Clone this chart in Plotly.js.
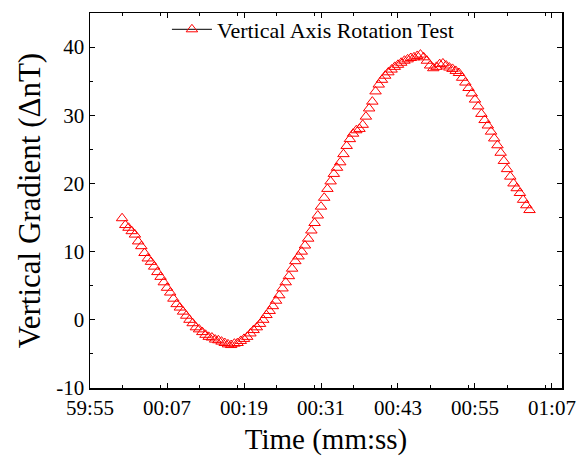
<!DOCTYPE html>
<html>
<head>
<meta charset="utf-8">
<script src="https://cdn.plot.ly/plotly-3.0.1.min.js"></script>
<style>html,body{margin:0;padding:0;background:#fff;}#chart{width:579px;height:465px;}</style>
</head>
<body>
<div id="chart"></div>
<script>
// Seconds elapsed since 00:59:55
const seconds = [
  5.0, 5.5, 6.0, 6.5, 7.0, 7.5, 8.0, 8.5, 9.0, 9.5,
  10.0, 10.5, 11.0, 11.5, 12.0, 12.5, 13.0, 13.5, 14.0, 14.5,
  15.0, 15.5, 16.0, 16.5, 17.0, 17.5, 18.0, 18.5, 19.0, 19.5,
  20.0, 20.5, 21.0, 21.5, 22.0, 22.5, 23.0, 23.5, 24.0, 24.5,
  25.0, 25.5, 26.0, 26.5, 27.0, 27.5, 28.0, 28.5, 29.0, 29.5,
  30.0, 30.5, 31.0, 31.5, 32.0, 32.5, 33.0, 33.5, 34.0, 34.5,
  35.0, 35.5, 36.0, 36.5, 37.0, 37.5, 38.0, 38.5, 39.0, 39.5,
  40.0, 40.5, 41.0, 41.5, 42.0, 42.5, 43.0, 43.5, 44.0, 44.5,
  45.0, 45.5, 46.0, 46.5, 47.0, 47.5, 48.0, 48.5, 49.0, 49.5,
  50.0, 50.5, 51.0, 51.5, 52.0, 52.5, 53.0, 53.5, 54.0, 54.5,
  55.0, 55.5, 56.0, 56.5, 57.0, 57.5, 58.0, 58.5, 59.0, 59.5,
  60.0, 60.5, 61.0, 61.5, 62.0, 62.5, 63.0, 63.5, 64.0, 64.5,
  65.0, 65.5, 66.0, 66.5, 67.0, 67.5, 68.0, 68.5
];
// Vertical gradient (ΔnT)
const gradient = [
  14.9, 13.9, 13.5, 13.0, 12.5, 11.5, 10.8, 9.8, 9.0, 8.5,
  7.8, 7.0, 6.3, 5.5, 4.7, 4.0, 3.1, 2.3, 1.8, 1.2,
  0.6, 0.0, -0.5, -1.1, -1.4, -1.8, -2.2, -2.5, -2.6, -2.9,
  -3.0, -3.2, -3.4, -3.6, -3.7, -3.5, -3.4, -3.1, -2.8, -2.5,
  -2.0, -1.5, -1.1, -0.6, 0.0, 0.7, 1.3, 2.0, 2.8, 3.6,
  4.6, 5.5, 6.4, 7.5, 8.6, 9.3, 10.0, 10.9, 11.9, 13.1,
  14.2, 15.3, 16.6, 17.9, 19.2, 20.3, 21.4, 22.3, 23.1, 24.3,
  25.5, 26.5, 27.3, 27.8, 28.0, 28.6, 29.8, 31.0, 32.0, 33.5,
  34.5, 35.2, 35.8, 36.3, 36.7, 37.1, 37.4, 37.7, 38.0, 38.2,
  38.4, 38.5, 38.7, 38.9, 38.5, 38.0, 37.3, 36.9, 37.1, 37.5,
  37.6, 37.3, 37.0, 36.8, 36.5, 36.2, 35.5, 34.8, 34.0, 33.2,
  32.3, 31.3, 30.2, 29.3, 28.5, 27.6, 26.6, 25.6, 24.5, 23.3,
  22.1, 21.0, 20.0, 19.3, 18.6, 17.6, 16.8, 16.1
];
// Y tick values and labels (plain hyphen minus as in the reference)
const yTickVals = [-10, 0, 10, 20, 30, 40];
const yTickText = ['-10', '0', '10', '20', '30', '40'];
const seriesName = 'Vertical Axis Rotation Test';
const xTitle = 'Time (mm:ss)';
const yTitle = 'Vertical Gradient (ΔnT)';

const startSec = 59 * 60 + 55; // 00:59:55
function toDate(s) {
  const total = startSec + s;
  const h = Math.floor(total / 3600);
  const m = Math.floor((total % 3600) / 60);
  const sec = total - h * 3600 - m * 60;
  const pad = (v) => String(v).padStart(2, '0');
  const secStr = sec.toFixed(3).padStart(6, '0');
  return '2024-01-01 ' + pad(h) + ':' + pad(m) + ':' + secStr;
}
const times = seconds.map(toDate);

const font = 'Liberation Serif, Times New Roman, serif';

const traces = [
  {
    x: times, y: gradient, type: 'scatter', mode: 'markers',
    name: seriesName, showlegend: false,
    marker: {symbol: 'triangle-up-open', size: 10, color: '#ff0000', line: {width: 1, color: '#ff0000'}}
  },
  {
    x: [null], y: [null], type: 'scatter', mode: 'lines+markers',
    name: seriesName, showlegend: true,
    line: {color: '#000000', width: 1},
    marker: {symbol: 'triangle-up-open', size: 10, color: '#ff0000', line: {width: 1, color: '#ff0000'}}
  }
];

// trailing no-break spaces shift the rotated title down to match the reference
const yTitleText = yTitle + '\u00a0\u00a0\u00a0\u00a0\u00a0\u00a0\u00a0\u00a0';

const layout = {
  width: 579, height: 465,
  margin: {l: 90, r: 17, t: 9, b: 77},
  paper_bgcolor: '#ffffff', plot_bgcolor: '#ffffff',
  font: {family: font, color: '#000000', size: 21},
  showlegend: true,
  legend: {
    x: 0.163, y: 1.012, xanchor: 'left', yanchor: 'top',
    bgcolor: 'rgba(0,0,0,0)', borderwidth: 0,
    font: {family: font, size: 22, color: '#000000'},
    itemwidth: 40
  },
  xaxis: {
    type: 'date',
    range: ['2024-01-01 00:59:55', '2024-01-01 01:01:08.56'],
    tick0: '2024-01-01 00:59:55', dtick: 12000,
    tickformat: '%M:%S',
    ticks: 'inside', ticklen: 5, tickwidth: 1, tickcolor: '#000',
    minor: {dtick: 6000, ticks: 'inside', ticklen: 3, tickwidth: 1, tickcolor: '#000'},
    showline: true, linecolor: '#000', linewidth: 1.5, mirror: 'ticks',
    showgrid: false, zeroline: false,
    tickfont: {family: font, size: 21},
    title: {text: xTitle, font: {family: font, size: 29}, standoff: 10}
  },
  yaxis: {
    range: [-10, 45],
    tickmode: 'array', tickvals: yTickVals, ticktext: yTickText,
    ticks: 'inside', ticklen: 5, tickwidth: 1, tickcolor: '#000',
    minor: {tickmode: 'linear', tick0: -10, dtick: 5, ticks: 'inside', ticklen: 3, tickwidth: 1, tickcolor: '#000'},
    showline: true, linecolor: '#000', linewidth: 1.5, mirror: 'ticks',
    showgrid: false, zeroline: false,
    tickfont: {family: font, size: 21},
    title: {text: yTitleText, font: {family: font, size: 31}, standoff: 6}
  }
};

Plotly.newPlot('chart', traces, layout, {displayModeBar: false, staticPlot: true});
</script>
</body>
</html>
